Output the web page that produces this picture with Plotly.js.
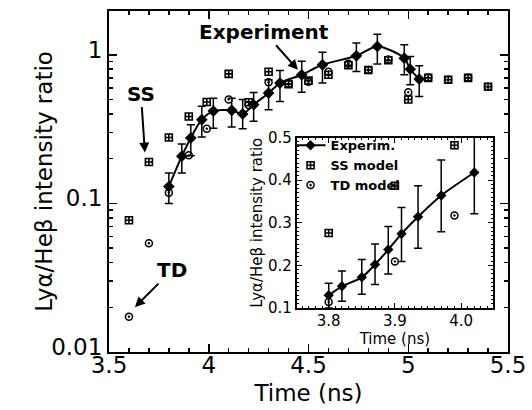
<!DOCTYPE html>
<html>
<head>
<meta charset="utf-8">
<script src="https://cdn.plot.ly/plotly-3.0.1.min.js"></script>
<style>html,body{margin:0;padding:0;background:#fff;}#chart{width:532px;height:410px;}</style>
</head>
<body>
<div id="chart"></div>
<script>
// ---- Main plot data ----
var expTime = [3.80, 3.865, 3.91, 3.965, 4.023, 4.115, 4.17, 4.225, 4.30, 4.357, 4.466, 4.57, 4.74, 4.845, 4.98, 5.01, 5.055];
var expRatio = [0.130, 0.208, 0.276, 0.366, 0.418, 0.423, 0.400, 0.462, 0.553, 0.646, 0.734, 0.857, 0.985, 1.14, 0.95, 0.80, 0.687];
var expHigh = [0.160, 0.251, 0.339, 0.450, 0.510, 0.510, 0.500, 0.558, 0.680, 0.785, 0.905, 1.04, 1.20, 1.377, 1.167, 0.974, 0.844];
var expLow = [0.100, 0.160, 0.209, 0.280, 0.320, 0.327, 0.318, 0.357, 0.427, 0.486, 0.560, 0.646, 0.773, 0.866, 0.734, 0.630, 0.525];

var ssTime = [3.6, 3.7, 3.8, 3.9, 3.99, 4.1, 4.2, 4.3, 4.4, 4.5, 4.6, 4.7, 4.8, 4.9, 5.0, 5.1, 5.2, 5.3, 5.4];
var ssRatio = [0.077, 0.19, 0.278, 0.385, 0.482, 0.745, 0.48, 0.77, 0.635, 0.67, 0.734, 0.85, 0.79, 0.92, 0.50, 0.70, 0.68, 0.70, 0.61];

var tdTime = [3.6, 3.7, 3.8, 3.9, 3.99, 4.1, 4.2, 4.3, 4.4, 4.5, 4.6, 4.7, 4.8, 4.9, 5.0, 5.1, 5.2, 5.3, 5.4];
var tdRatio = [0.0173, 0.054, 0.118, 0.211, 0.318, 0.50, 0.46, 0.655, 0.64, 0.66, 0.77, 0.87, 0.79, 0.93, 0.56, 0.705, 0.68, 0.70, 0.61];

// ---- Inset data ----
var insTime = [3.80, 3.82, 3.85, 3.87, 3.89, 3.91, 3.935, 3.97, 4.02];
var insRatio = [0.130, 0.151, 0.172, 0.202, 0.237, 0.274, 0.314, 0.364, 0.418];
var insHigh = [0.158, 0.187, 0.214, 0.250, 0.291, 0.336, 0.387, 0.447, 0.530];
var insLow = [0.100, 0.116, 0.132, 0.155, 0.180, 0.209, 0.240, 0.279, 0.321];
var insSsTime = [3.80, 3.90, 3.99];
var insSsRatio = [0.276, 0.387, 0.482];
var insTdTime = [3.80, 3.90, 3.99];
var insTdRatio = [0.114, 0.209, 0.317];

// ---- Tick labels ----
var mainYTicks = [0.01, 0.1, 1];
var mainYTickText = ['0.01', '0.1', '1'];
var mainYMinor = [0.02,0.03,0.04,0.05,0.06,0.07,0.08,0.09,0.2,0.3,0.4,0.5,0.6,0.7,0.8,0.9];
var insXTicks = [3.8, 3.9, 4.0];
var insXTickText = ['3.8', '3.9', '4.0'];

function diff(a, b) { return a.map(function (v, i) { return v - b[i]; }); }

var FONT = 'DejaVu Sans, Verdana, sans-serif';
var errStyle = {color: '#000', thickness: 1.5, width: 4};

var traces = [
  {x: ssTime, y: ssRatio, xaxis: 'x', yaxis: 'y', mode: 'markers', showlegend: false,
   marker: {symbol: 'square-cross-open', size: 7, color: '#000', line: {width: 1.6, color: '#000'}}},
  {x: tdTime, y: tdRatio, xaxis: 'x', yaxis: 'y', mode: 'markers', showlegend: false,
   marker: {symbol: 'circle-open-dot', size: 7, color: '#000', line: {width: 1.5, color: '#000'}}},
  {x: expTime, y: expRatio, xaxis: 'x', yaxis: 'y', mode: 'lines+markers', showlegend: false,
   line: {color: '#000', width: 2, shape: 'spline', smoothing: 0.8},
   marker: {symbol: 'diamond', size: 9, color: '#000'},
   error_y: Object.assign({type: 'data', symmetric: false, array: diff(expHigh, expRatio), arrayminus: diff(expRatio, expLow)}, errStyle)},

  {x: insTime, y: insRatio, xaxis: 'x2', yaxis: 'y2', mode: 'lines+markers', name: 'Experim.',
   line: {color: '#000', width: 2, shape: 'spline', smoothing: 0.8},
   marker: {symbol: 'diamond', size: 8, color: '#000'},
   error_y: Object.assign({type: 'data', symmetric: false, array: diff(insHigh, insRatio), arrayminus: diff(insRatio, insLow)}, errStyle)},
  {x: insSsTime, y: insSsRatio, xaxis: 'x2', yaxis: 'y2', mode: 'markers', name: 'SS model',
   marker: {symbol: 'square-cross-open', size: 7, color: '#000', line: {width: 1.6, color: '#000'}}},
  {x: insTdTime, y: insTdRatio, xaxis: 'x2', yaxis: 'y2', mode: 'markers', name: 'TD model',
   marker: {symbol: 'circle-open-dot', size: 7, color: '#000', line: {width: 1.5, color: '#000'}}}
];

var annFont = {family: FONT, size: 20, color: '#000', weight: 'bold'};
var layout = {
  width: 532, height: 410,
  margin: {l: 109, r: 24, t: 11, b: 58},
  paper_bgcolor: '#fff', plot_bgcolor: '#fff',
  font: {family: FONT, color: '#000'},
  showlegend: true,
  legend: {x: 0.455, y: 0.65, xanchor: 'left', yanchor: 'top', bgcolor: 'rgba(0,0,0,0)',
           font: {family: FONT, size: 13, color: '#000', weight: 'bold'}, tracegroupgap: 0},
  xaxis: {
    domain: [0, 1], anchor: 'y', range: [3.5, 5.5], dtick: 0.5, tick0: 3.5,
    showgrid: false, zeroline: false, showline: true, linewidth: 2, linecolor: '#000', mirror: 'ticks',
    ticks: 'inside', ticklen: 8, tickwidth: 1.5, tickcolor: '#000', ticklabelstandoff: -9,
    minor: {dtick: 0.1, tick0: 3.5, ticks: 'inside', ticklen: 4, tickwidth: 1.5, tickcolor: '#000', showgrid: false},
    tickfont: {family: FONT, size: 23, color: '#000'},
    title: {text: 'Time (ns)', font: {family: FONT, size: 23, color: '#000'}, standoff: 8},
    automargin: false
  },
  yaxis: {
    domain: [0, 1], anchor: 'x', type: 'log', range: [-2, 0.295],
    tickvals: mainYTicks, ticktext: mainYTickText, ticklabelshift: -5,
    showgrid: false, zeroline: false, showline: true, linewidth: 2, linecolor: '#000', mirror: 'ticks',
    ticks: 'inside', ticklen: 8, tickwidth: 1.5, tickcolor: '#000',
    minor: {tickvals: mainYMinor, ticks: 'inside', ticklen: 4, tickwidth: 1.5, tickcolor: '#000', showgrid: false},
    tickfont: {family: FONT, size: 23, color: '#000'},
    title: {text: 'Lyα/Heβ intensity ratio', font: {family: FONT, size: 23, color: '#000'}},
    automargin: false
  },
  xaxis2: {
    domain: [0.471, 0.962], anchor: 'y2', range: [3.752, 4.048],
    tickvals: insXTicks, ticktext: insXTickText,
    showgrid: false, zeroline: false, showline: true, linewidth: 2, linecolor: '#000', mirror: 'ticks',
    ticks: 'inside', ticklen: 5, tickwidth: 1, tickcolor: '#000', ticklabelstandoff: -2,
    minor: {dtick: 0.01, tick0: 3.8, ticks: 'inside', ticklen: 2, tickwidth: 1, tickcolor: '#000', showgrid: false},
    tickfont: {family: FONT, size: 15, color: '#000'},
    title: {text: 'Time (ns)', font: {family: FONT, size: 15, color: '#000'}, standoff: 0},
    automargin: false
  },
  yaxis2: {
    domain: [0.129, 0.629], anchor: 'x2', range: [0.1, 0.5], dtick: 0.1, tick0: 0.1, tickformat: '.1f',
    showgrid: false, zeroline: false, showline: true, linewidth: 2, linecolor: '#000', mirror: 'ticks',
    ticks: 'inside', ticklen: 5, tickwidth: 1, tickcolor: '#000',
    minor: {dtick: 0.01, tick0: 0.1, ticks: 'inside', ticklen: 2, tickwidth: 1, tickcolor: '#000', showgrid: false},
    tickfont: {family: FONT, size: 15, color: '#000'},
    title: {text: 'Lyα/Heβ intensity ratio', font: {family: FONT, size: 15, color: '#000'}, standoff: 2},
    automargin: false
  },
  annotations: [
    {xref: 'x', yref: 'y', x: 4.447, y: -0.1007, ax: -34, ay: -38, text: 'Experiment', font: annFont,
     showarrow: true, arrowhead: 2, arrowsize: 1, arrowwidth: 2, arrowcolor: '#000', standoff: 0},
    {xref: 'x', yref: 'y', x: 3.680, y: -0.658, ax: -4, ay: -59, text: 'SS', font: annFont,
     showarrow: true, arrowhead: 2, arrowsize: 1, arrowwidth: 2, arrowcolor: '#000', standoff: 0},
    {xref: 'x', yref: 'y', x: 3.630, y: -1.698, ax: 37, ay: -37, text: 'TD', font: annFont,
     showarrow: true, arrowhead: 2, arrowsize: 1, arrowwidth: 2, arrowcolor: '#000', standoff: 0}
  ]
};

Plotly.newPlot('chart', traces, layout, {staticPlot: true, displayModeBar: false});
</script>
</body>
</html>
